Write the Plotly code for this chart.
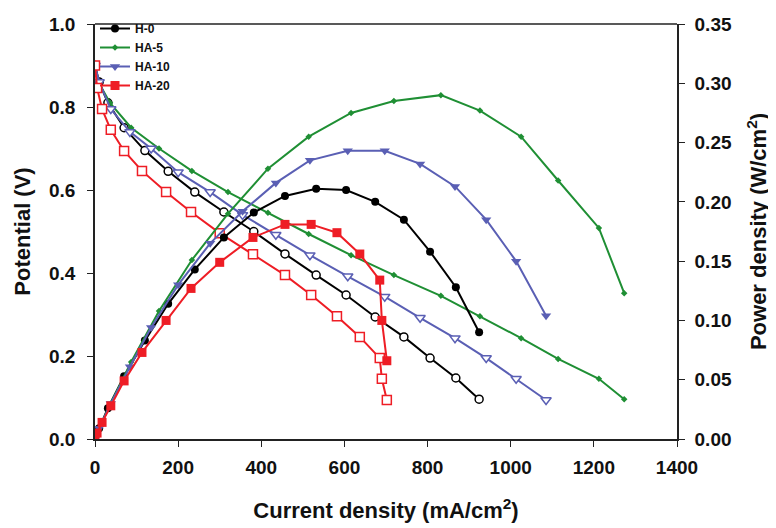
import plotly.graph_objects as go

# ---- data ----
h0_i = [0, 10, 31, 70, 120, 176, 240, 310, 382, 457, 532, 604, 674, 743, 806, 868, 924]
h0_v = [0.90, 0.86, 0.81, 0.75, 0.695, 0.645, 0.595, 0.547, 0.50, 0.446, 0.395, 0.347, 0.294, 0.246, 0.195, 0.147, 0.096]
h0_p = [0.0, 0.009, 0.026, 0.053, 0.083, 0.114, 0.143, 0.170, 0.191, 0.205, 0.211, 0.210, 0.200, 0.185, 0.158, 0.128, 0.090]

ha5_i = [0, 8, 36, 87, 154, 233, 320, 416, 514, 616, 719, 832, 926, 1025, 1114, 1212, 1273]
ha5_v = [0.90, 0.86, 0.81, 0.75, 0.70, 0.646, 0.595, 0.545, 0.494, 0.443, 0.395, 0.345, 0.296, 0.243, 0.193, 0.145, 0.096]
ha5_p = [0.0, 0.007, 0.029, 0.065, 0.108, 0.151, 0.190, 0.228, 0.255, 0.275, 0.285, 0.290, 0.277, 0.255, 0.218, 0.178, 0.123]

ha10_i = [0, 10, 38, 84, 135, 200, 277, 355, 435, 517, 608, 697, 782, 866, 941, 1013, 1085]
ha10_v = [0.90, 0.86, 0.795, 0.74, 0.70, 0.643, 0.595, 0.54, 0.492, 0.443, 0.392, 0.343, 0.292, 0.243, 0.195, 0.145, 0.094]
ha10_p = [0.0, 0.009, 0.030, 0.061, 0.094, 0.130, 0.165, 0.192, 0.216, 0.235, 0.243, 0.243, 0.232, 0.213, 0.185, 0.150, 0.104]

ha20_i = [0, 5, 17, 38, 70, 113, 171, 231, 300, 380, 457, 520, 582, 637, 685, 690, 702]
ha20_v = [0.90, 0.846, 0.795, 0.745, 0.694, 0.646, 0.595, 0.547, 0.496, 0.445, 0.395, 0.347, 0.296, 0.246, 0.195, 0.145, 0.094]
ha20_p = [0.0, 0.005, 0.014, 0.028, 0.049, 0.073, 0.100, 0.127, 0.149, 0.170, 0.181, 0.181, 0.174, 0.156, 0.134, 0.100, 0.066]

x_ticks = [0, 200, 400, 600, 800, 1000, 1200, 1400]
y_ticks = [0.0, 0.2, 0.4, 0.6, 0.8, 1.0]
y2_ticks = [0.00, 0.05, 0.10, 0.15, 0.20, 0.25, 0.30, 0.35]

series = [
    ("H-0", h0_i, h0_v, h0_p, "#000000", "circle", 8),
    ("HA-5", ha5_i, ha5_v, ha5_p, "#1f8f34", "diamond", 5),
    ("HA-10", ha10_i, ha10_v, ha10_p, "#5a5fb4", "triangle-down", 9),
    ("HA-20", ha20_i, ha20_v, ha20_p, "#ee1d25", "square", 9),
]

fig = go.Figure()
for name, xi, v, p, col, sym, sz in series:
    hollow = sym != "diamond"
    fig.add_trace(go.Scatter(
        x=xi, y=v, mode="lines+markers", name=name, showlegend=False,
        line=dict(color=col, width=2),
        marker=dict(symbol=sym, size=sz, color="white" if hollow else col,
                    line=dict(color=col, width=1.5 if hollow else 0)),
        yaxis="y"))
for name, xi, v, p, col, sym, sz in series:
    fig.add_trace(go.Scatter(
        x=xi, y=p, mode="lines+markers", name=name, showlegend=True,
        line=dict(color=col, width=2),
        marker=dict(symbol=sym, size=sz, color=col, line=dict(color=col, width=0)),
        yaxis="y2"))

tickfont = dict(family="Liberation Sans Narrow, Arial Narrow, Liberation Sans, Arial", size=19,
                color="#111111", weight="bold")
titlefont = dict(family="Liberation Sans, Arial", size=22, color="#111111", weight="bold")

H_PAPER = 528 - 97  # paper height with t=0
dom_top = (H_PAPER - 16) / H_PAPER

fig.update_layout(
    width=776, height=528,
    margin=dict(l=87, r=107, t=0, b=97),
    paper_bgcolor="white", plot_bgcolor="white",
    showlegend=True,
    legend=dict(x=0.0, y=1 - 6 / H_PAPER, xanchor="left", yanchor="top",
                bgcolor="rgba(0,0,0,0)", borderwidth=0,
                font=dict(family="Liberation Sans, Arial", size=12, color="#111111", weight="bold"),
                tracegroupgap=0),
    xaxis=dict(range=[0, 1400], tickvals=x_ticks, ticktext=[str(t) for t in x_ticks],
               showgrid=False, zeroline=False, showline=True, linecolor="#222222", linewidth=1.5,
               ticks="outside", ticklen=6, tickcolor="#222222", tickfont=tickfont,
               ticklabelstandoff=4, automargin=False,
               title=dict(text="Current density (mA/cm<sup>2</sup>)", font=titlefont, standoff=26)),
    yaxis=dict(range=[0, 1.0], domain=[0, dom_top], tickvals=y_ticks, ticktext=[f"{t:.1f}" for t in y_ticks],
               showgrid=False, zeroline=False, showline=True, linecolor="#222222", linewidth=1.5,
               ticks="outside", ticklen=6, tickcolor="#222222", tickfont=tickfont,
               ticklabelstandoff=8, automargin=False,
               title=dict(text="Potential (V)", font=titlefont, standoff=12)),
    yaxis2=dict(range=[0, 0.35], tickvals=y2_ticks, ticktext=[f"{t:.2f}" for t in y2_ticks],
                overlaying="y", side="right",
                showgrid=False, zeroline=False, showline=True, linecolor="#222222", linewidth=1.5,
                ticks="outside", ticklen=6, tickcolor="#222222", tickfont=tickfont,
                ticklabelstandoff=6, automargin=False,
                title=dict(text="Power density (W/cm<sup>2</sup>)", font=titlefont, standoff=20)),
    shapes=[dict(type="line", xref="x domain", yref="y domain", x0=0, x1=1, y0=1, y1=1,
                 line=dict(color="#222222", width=1.5))],
)

fig.write_html("out.html")
